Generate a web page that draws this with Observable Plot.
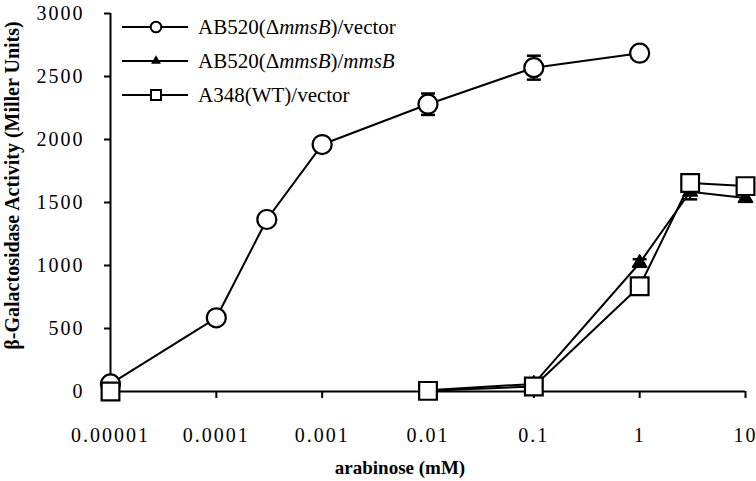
<!DOCTYPE html>
<html>
<head>
<meta charset="utf-8">
<script src="https://cdn.jsdelivr.net/npm/d3@7"></script>
<script src="https://cdn.jsdelivr.net/npm/@observablehq/plot@0.6"></script>
<style>
  body { margin: 0; background: white; }
  #wrap { position: relative; width: 756px; height: 481px; }
  #wrap text { font-family: 'Liberation Serif', 'Times New Roman', serif !important; }
  #legend { position: absolute; left: 0; top: 0; pointer-events: none; }
  g[aria-label="y-axis tick label"] text, g[aria-label="x-axis tick label"] text { letter-spacing: 2px; }
</style>
</head>
<body>
<div id="wrap"></div>
<script>
const SERIF = "'Liberation Serif', 'Times New Roman', serif";
// arabinose concentration (mM)
const conc = [0.00001, 0.0001, 0.0003, 0.001, 0.01, 0.1, 1, 3, 10];
// AB520(ΔmmsB)/vector — open circles
const vectorVals = [60, 585, 1365, 1960, 2280, 2570, 2685, null, null];
const vectorErr  = [0, 0, 40, 30, 85, 95, 0, null, null];
// AB520(ΔmmsB)/mmsB — filled triangles
const mmsBVals = [0, null, null, null, 10, 60, 1020, 1585, 1535];
const mmsBErr  = [0, null, null, null, 0, 0, 30, 60, 30];
// A348(WT)/vector — open squares
const wtVals = [0, null, null, null, 5, 40, 835, 1655, 1630];
const wtErr  = [0, null, null, null, 0, 0, 0, 0, 0];

const xTicks = [0.00001, 0.0001, 0.001, 0.01, 0.1, 1, 10];
const xTickLabels = ["0.00001", "0.0001", "0.001", "0.01", "0.1", "1", "10"];
const yTicks = [0, 500, 1000, 1500, 2000, 2500, 3000];

const seriesNames = ["vector", "mmsB", "wt"];
const seriesVals = [vectorVals, mmsBVals, wtVals];
const seriesErr = [vectorErr, mmsBErr, wtErr];

const rows = [];
seriesNames.forEach((s, i) => {
  conc.forEach((c, j) => {
    rows.push({series: s, x: c, y: seriesVals[i][j] == null ? NaN : seriesVals[i][j], e: seriesErr[i][j] || 0});
  });
});
const pts = rows.filter(d => !isNaN(d.y));
const errs = pts.filter(d => d.e > 0);

const cap = {draw(ctx) { ctx.moveTo(-7, 0); ctx.lineTo(7, 0); }};

const chart = Plot.plot({
  width: 756,
  height: 481,
  marginLeft: 110,
  marginRight: 11,
  marginTop: 13,
  marginBottom: 90,
  style: {fontFamily: SERIF, fontSize: "20px", background: "white", color: "black", overflow: "visible"},
  x: {type: "log", domain: [0.00001, 10]},
  y: {domain: [0, 3000]},
  marks: [
    Plot.axisY({ticks: yTicks, tickSize: 6, tickPadding: 20, strokeWidth: 2, label: null, tickFormat: d => String(d)}),
    Plot.axisX({ticks: xTicks, tickSize: 7, tickPadding: 29, strokeWidth: 2, label: null, tickFormat: d => xTickLabels[xTicks.indexOf(d)]}),
    Plot.ruleX([0.00001], {y1: 0, y2: 3000, strokeWidth: 2}),
    Plot.ruleY([0], {x1: 0.00001, x2: 10, strokeWidth: 2}),
    Plot.line(rows, {x: "x", y: "y", z: "series", stroke: "black", strokeWidth: 2}),
    Plot.ruleX(errs, {x: "x", y1: d => d.y - d.e, y2: d => d.y + d.e, strokeWidth: 2}),
    Plot.dot(errs, {x: "x", y: d => d.y + d.e, symbol: cap, stroke: "black", fill: "none", strokeWidth: 2.5}),
    Plot.dot(errs, {x: "x", y: d => d.y - d.e, symbol: cap, stroke: "black", fill: "none", strokeWidth: 2.5}),
    Plot.dot(pts.filter(d => d.series === "vector"), {x: "x", y: "y", r: 9.5, fill: "white", stroke: "black", strokeWidth: 2.2}),
    Plot.dot(pts.filter(d => d.series === "mmsB"), {x: "x", y: "y", r: 5.6, symbol: "triangle", fill: "black", stroke: "black", strokeWidth: 1}),
    Plot.dot(pts.filter(d => d.series === "wt"), {x: "x", y: "y", r: 10, symbol: "square", fill: "white", stroke: "black", strokeWidth: 2.2}),
    Plot.text(["arabinose (mM)"], {frameAnchor: "bottom", textAnchor: "middle", lineAnchor: "middle", dx: -28, dy: 76, fontWeight: "bold", fontSize: 19, fill: "black", style: "letter-spacing:1px"}),
    Plot.text(["β-Galactosidase Activity (Miller Units)"], {frameAnchor: "left", textAnchor: "middle", lineAnchor: "middle", rotate: -90, dx: -98, dy: -17, fontWeight: "bold", fontSize: 20, fill: "black"})
  ]
});
document.getElementById("wrap").appendChild(chart);

// legend overlay
const legendItems = [
  {sym: "circle", parts: [["AB520(Δ", false], ["mmsB", true], [")/vector", false]]},
  {sym: "triangle", parts: [["AB520(Δ", false], ["mmsB", true], [")/", false], ["mmsB", true]]},
  {sym: "square", parts: [["A348(WT)/vector", false]]}
];
const lg = d3.select("#wrap").append("svg").attr("id", "legend").attr("width", 756).attr("height", 481)
  .attr("font-family", "Liberation Serif").style("font-size", "21px");
legendItems.forEach((it, i) => {
  const g = lg.append("g").attr("transform", `translate(0,${27 + i * 34})`);
  g.append("line").attr("x1", 122).attr("x2", 188).attr("stroke", "black").attr("stroke-width", 2);
  if (it.sym === "circle") g.append("circle").attr("cx", 156).attr("r", 5.3).attr("fill", "white").attr("stroke", "black").attr("stroke-width", 2);
  if (it.sym === "triangle") g.append("path").attr("transform", "translate(156,0)").attr("d", d3.symbol(d3.symbolTriangle, 42)()).attr("fill", "black");
  if (it.sym === "square") g.append("rect").attr("x", 151).attr("y", -5).attr("width", 10).attr("height", 10).attr("fill", "white").attr("stroke", "black").attr("stroke-width", 2);
  const t = g.append("text").attr("x", 198).attr("dy", "0.35em");
  it.parts.forEach(([s, ital]) => t.append("tspan").text(s).style("font-style", ital ? "italic" : "normal"));
});
</script>
</body>
</html>
